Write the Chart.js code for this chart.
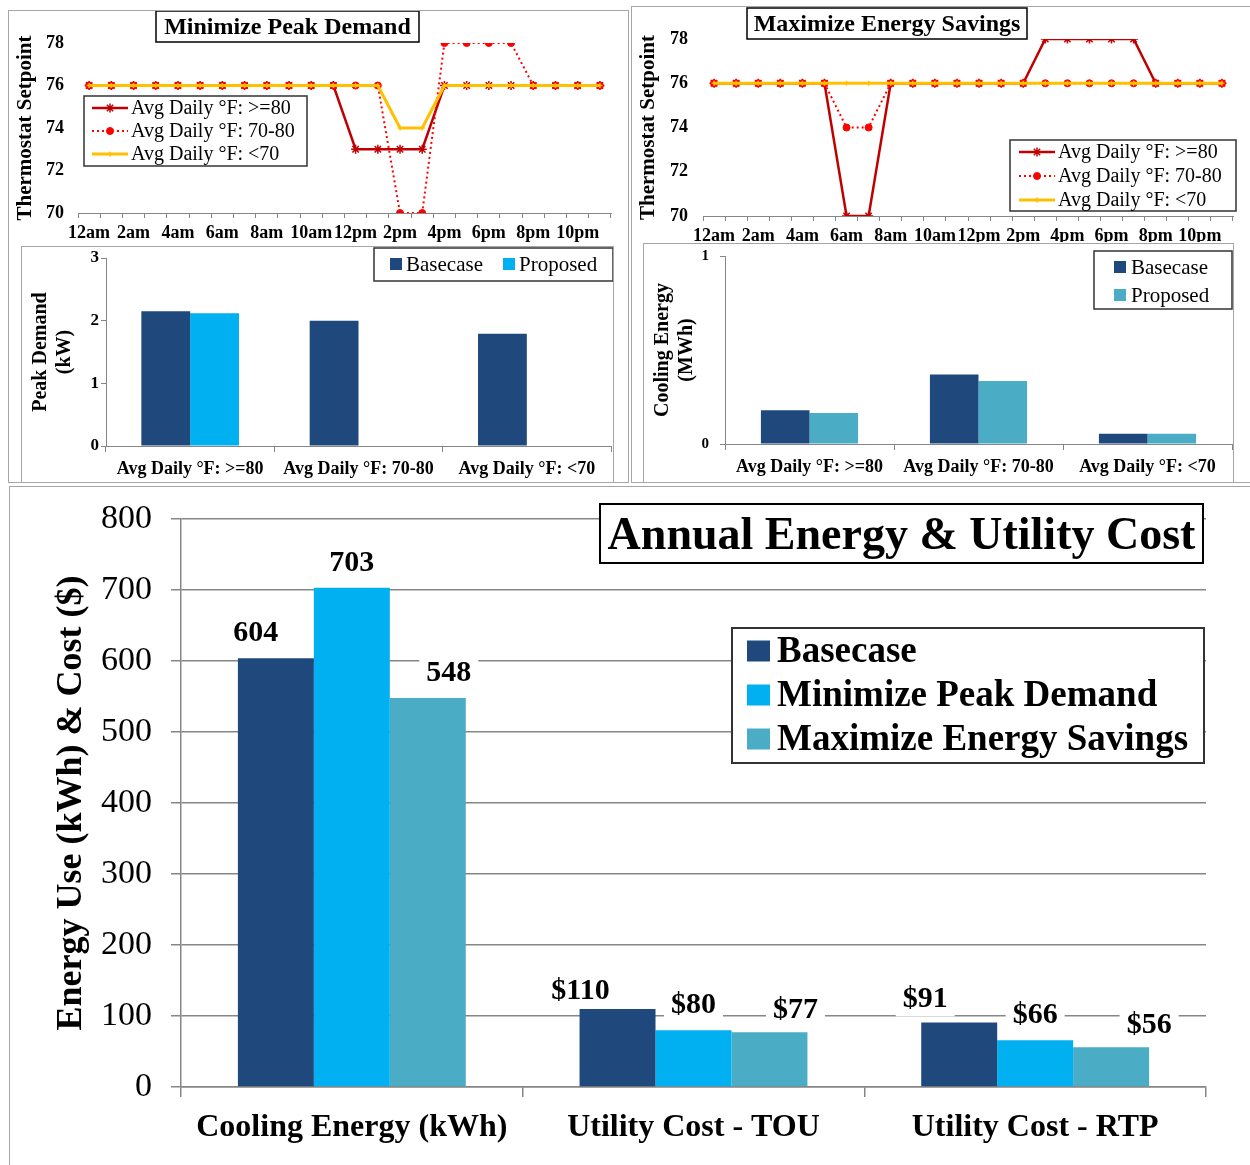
<!DOCTYPE html>
<html>
<head>
<meta charset="utf-8">
<script src="https://cdn.jsdelivr.net/npm/chart.js@4.4.1/dist/chart.umd.min.js"></script>
<style>
  html, body { margin: 0; padding: 0; background: #fff; }
  #page { position: relative; width: 1250px; height: 1165px; overflow: hidden; background: #fff; }
  .frame { position: absolute; border: 1px solid #a6a6a6; box-sizing: border-box; }
  canvas { position: absolute; }
</style>
</head>
<body>
<div id="page">
  <div class="frame" style="left:8px;top:10px;width:621px;height:473px"></div>
  <div class="frame" style="left:21px;top:246px;width:593px;height:237px"></div>
  <div class="frame" style="left:631px;top:6px;width:640px;height:477px"></div>
  <div class="frame" style="left:643px;top:243px;width:591px;height:240px"></div>
  <div class="frame" style="left:9px;top:486px;width:1260px;height:700px"></div>
  <canvas id="peakSetpoints"></canvas>
  <canvas id="peakDemand"></canvas>
  <canvas id="savingsSetpoints"></canvas>
  <canvas id="coolingEnergy"></canvas>
  <canvas id="annual"></canvas>
</div>
<script>
// ---------- data ----------
const hourLabels = ['12am','1am','2am','3am','4am','5am','6am','7am','8am','9am','10am','11am',
                    '12pm','1pm','2pm','3pm','4pm','5pm','6pm','7pm','8pm','9pm','10pm','11pm'];
const binLabels = ['Avg Daily °F: >=80', 'Avg Daily °F: 70-80', 'Avg Daily °F: <70'];

// Minimize Peak Demand: hourly thermostat setpoints (°F)
const peakHot  = [76,76,76,76,76,76,76,76,76,76,76,76,73,73,73,73,76,76,76,76,76,76,76,76];
const peakMild = [76,76,76,76,76,76,76,76,76,76,76,76,76,76,70,70,78,78,78,78,76,76,76,76];
const peakCool = [76,76,76,76,76,76,76,76,76,76,76,76,76,76,74,74,76,76,76,76,76,76,76,76];

// Maximize Energy Savings: hourly thermostat setpoints (°F)
const savingsHot  = [76,76,76,76,76,76,70,70,76,76,76,76,76,76,76,78,78,78,78,78,76,76,76,76];
const savingsMild = [76,76,76,76,76,76,74,74,76,76,76,76,76,76,76,76,76,76,76,76,76,76,76,76];
const savingsCool = [76,76,76,76,76,76,76,76,76,76,76,76,76,76,76,76,76,76,76,76,76,76,76,76];

// Peak demand (kW) by temperature bin
const peakBase     = [2.15, 2.0, 1.79];
const peakProposed = [2.12, null, null];

// Cooling energy (MWh) by temperature bin
const coolingBase     = [0.18, 0.37, 0.055];
const coolingProposed = [0.165, 0.335, 0.055];

// Annual energy use and utility cost
const annualCategories = ['Cooling Energy (kWh)', 'Utility Cost - TOU', 'Utility Cost - RTP'];
const annualBase    = [604, 110, 91];
const annualPeak    = [703, 80, 66];
const annualSavings = [548, 77, 56];

// ---------- styling ----------
const SERIF = '"Liberation Serif", "Times New Roman", serif';
Chart.defaults.font.family = SERIF;
Chart.defaults.color = '#000';
const NAVY = '#1F497D', CYAN = '#00B0F0', TEAL = '#4BACC6';
const AXIS = '#868686';
const HOT = '#C00000', MILD = '#FF0000', COOL = '#FFC000';

// Page-space placement of each canvas plus its boxed titles, keys and value tags
const origins = {};
const decor = {
  peakSetpoints: {
    title: { text: 'Minimize Peak Demand', font: 'bold 24px ' + SERIF, x: 156, y: 11, w: 263, h: 31 },
    key: { kind: 'line', font: '20px ' + SERIF, box: { x: 84, y: 96, w: 223, h: 70 },
           slots: [[92, 108], [92, 131], [92, 154]], sampleW: 36, textX: 131 }
  },
  savingsSetpoints: {
    title: { text: 'Maximize Energy Savings', font: 'bold 24px ' + SERIF, x: 747, y: 8, w: 280, h: 31 },
    key: { kind: 'line', font: '20px ' + SERIF, box: { x: 1010, y: 140, w: 226, h: 71 },
           slots: [[1019, 152], [1019, 176], [1019, 200]], sampleW: 36, textX: 1058 }
  },
  peakDemand: {
    key: { kind: 'swatch', font: '21px ' + SERIF, box: { x: 374, y: 248, w: 239, h: 33 },
           slots: [[390, 264], [503, 264]], swatch: [12, 12], textGap: 4 }
  },
  coolingEnergy: {
    key: { kind: 'swatch', font: '21px ' + SERIF, box: { x: 1094, y: 251, w: 138, h: 58 },
           slots: [[1114, 267], [1114, 295]], swatch: [12, 12], textGap: 5 }
  },
  annual: {
    title: { text: 'Annual Energy & Utility Cost', font: 'bold 46px ' + SERIF, x: 600, y: 504, w: 603, h: 59,
             lineWidth: 2, dy: 4 },
    key: { kind: 'swatch', font: 'bold 37px ' + SERIF, box: { x: 732, y: 628, w: 472, h: 135, lineWidth: 2 },
           slots: [[747, 651], [747, 695], [747, 739]], swatch: [23, 21], textGap: 7 },
    tags: { font: 'bold 30px ' + SERIF,
            dx: [[-20, -37, -34], [0, 0, 0], [21, 26, 38]],
            dy: [[25, 18, 23], [25, 25, 25], [25, 22, 22]] }
  }
};

function tagText(value, index) {
  return index === 0 ? String(value) : '$' + value;
}

function boxOutline(ctx, b, color) {
  ctx.fillStyle = '#fff';
  ctx.fillRect(b.x, b.y, b.w, b.h);
  ctx.strokeStyle = color;
  ctx.lineWidth = b.lineWidth || 1.5;
  ctx.strokeRect(b.x, b.y, b.w, b.h);
}

const decorPlugin = {
  id: 'decorPlugin',
  afterDatasetsDraw(chart) {
    const d = decor[chart.canvas.id];
    if (!d || !d.tags) return;
    const org = origins[chart.canvas.id];
    const ctx = chart.ctx;
    ctx.save();
    ctx.translate(-org.x, -org.y);
    ctx.font = d.tags.font;
    ctx.textAlign = 'center';
    ctx.textBaseline = 'middle';
    chart.data.datasets.forEach((ds, di) => {
      chart.getDatasetMeta(di).data.forEach((bar, i) => {
        const v = ds.data[i];
        if (v == null) return;
        const txt = tagText(v, i);
        const x = bar.x + org.x + d.tags.dx[di][i];
        const y = bar.y + org.y - d.tags.dy[di][i];
        const w = ctx.measureText(txt).width;
        ctx.fillStyle = '#fff';
        ctx.fillRect(x - w / 2 - 7, y - 17, w + 14, 34);
        ctx.fillStyle = '#000';
        ctx.fillText(txt, x, y);
      });
    });
    ctx.restore();
  },
  afterDraw(chart) {
    const d = decor[chart.canvas.id];
    if (!d) return;
    const org = origins[chart.canvas.id];
    const ctx = chart.ctx;
    ctx.save();
    ctx.translate(-org.x, -org.y);
    if (d.title) {
      const t = d.title;
      boxOutline(ctx, t, '#000');
      ctx.font = t.font;
      ctx.fillStyle = '#000';
      ctx.textAlign = 'center';
      ctx.textBaseline = 'middle';
      ctx.fillText(t.text, t.x + t.w / 2, t.y + t.h / 2 + (t.dy || 1));
    }
    if (d.key) {
      const k = d.key;
      boxOutline(ctx, k.box, '#333');
      ctx.font = k.font;
      ctx.textAlign = 'left';
      ctx.textBaseline = 'middle';
      chart.data.datasets.forEach((ds, i) => {
        const [sx, sy] = k.slots[i];
        let tx;
        if (k.kind === 'line') {
          ctx.save();
          ctx.strokeStyle = ds.borderColor;
          ctx.lineWidth = ds.borderWidth;
          ctx.setLineDash(ds.borderDash || []);
          ctx.beginPath();
          ctx.moveTo(sx, sy);
          ctx.lineTo(sx + k.sampleW, sy);
          ctx.stroke();
          ctx.restore();
          ctx.save();
          ctx.strokeStyle = ds.pointBorderColor;
          ctx.fillStyle = ds.pointBackgroundColor;
          ctx.lineWidth = ds.pointBorderWidth;
          Chart.helpers.drawPoint(ctx, {
            pointStyle: ds.pointStyle, radius: ds.pointRadius,
            borderWidth: ds.pointBorderWidth, rotation: 0
          }, sx + k.sampleW / 2, sy);
          ctx.restore();
          tx = k.textX;
        } else {
          ctx.fillStyle = ds.backgroundColor;
          ctx.fillRect(sx, sy - k.swatch[1] / 2, k.swatch[0], k.swatch[1]);
          tx = sx + k.swatch[0] + k.textGap;
        }
        ctx.fillStyle = '#000';
        ctx.fillText(ds.label, tx, sy + 1);
      });
    }
    ctx.restore();
  }
};
Chart.register(decorPlugin);

// Builds a chart whose plot area sits at an exact page rectangle
function build(id, frame, plot, config) {
  const cv = document.getElementById(id);
  cv.width = frame.w; cv.height = frame.h;
  cv.style.left = frame.x + 'px'; cv.style.top = frame.y + 'px';
  cv.style.width = frame.w + 'px'; cv.style.height = frame.h + 'px';
  origins[id] = frame;
  const o = config.options;
  o.responsive = false;
  o.animation = false;
  o.devicePixelRatio = 1;
  o.layout = { padding: { left: 0, top: plot.y0 - frame.y, right: frame.x + frame.w - plot.x1, bottom: 0 } };
  const xH = frame.y + frame.h - plot.y1;
  const yW = plot.x0 - frame.x;
  // fixed axis sizes; tick-label overhang is already covered by the padding above
  o.scales.x.afterFit = s => { s.height = xH; s.paddingLeft = 0; s.paddingRight = 0; };
  o.scales.y.afterFit = s => { s.width = yW; s.paddingTop = 0; s.paddingBottom = 0; };
  o.plugins = Object.assign({ legend: { display: false }, tooltip: { enabled: false } }, o.plugins || {});
  return new Chart(cv, config);
}

function setpointDatasets(hot, mild, cool) {
  return [
    { label: 'Avg Daily °F: >=80', data: hot, borderColor: HOT, borderWidth: 2.5,
      pointStyle: 'star', pointRadius: 4.5, pointBorderColor: HOT, pointBackgroundColor: HOT,
      pointBorderWidth: 1.5, tension: 0, order: 2 },
    { label: 'Avg Daily °F: 70-80', data: mild, borderColor: MILD, borderWidth: 2, borderDash: [2, 3],
      pointStyle: 'circle', pointRadius: 3.5, pointBorderColor: MILD, pointBackgroundColor: MILD,
      pointBorderWidth: 1, tension: 0, order: 1 },
    { label: 'Avg Daily °F: <70', data: cool, borderColor: COOL, borderWidth: 3,
      pointStyle: 'cross', pointRadius: 2.5, pointBorderColor: COOL, pointBackgroundColor: COOL,
      pointBorderWidth: 1.5, tension: 0, order: 0 }
  ];
}

function setpointScales(tickPad, titlePad) {
  return {
    x: {
      type: 'category', offset: true,
      grid: { offset: true, drawOnChartArea: false, drawTicks: true, tickLength: 5, color: AXIS },
      border: { display: true, color: AXIS, width: 1 },
      ticks: { autoSkip: false, maxRotation: 0, minRotation: 0, padding: 5,
               font: { size: 18, weight: 'bold' }, color: '#000',
               callback: (v, i) => (i % 2 === 0 ? hourLabels[i] : '') }
    },
    y: {
      min: 70, max: 78,
      grid: { display: false, drawTicks: false },
      border: { display: false },
      ticks: { stepSize: 2, padding: tickPad, font: { size: 18, weight: 'bold' }, color: '#000' },
      title: { display: true, text: 'Thermostat Setpoint', font: { size: 21, weight: 'bold', lineHeight: 1.2 },
               padding: { top: titlePad, bottom: 0 }, color: '#000' }
    }
  };
}

function binScales(max, tickSize, tickPad, title, titlePad) {
  return {
    x: {
      grid: { offset: true, drawOnChartArea: false, drawTicks: true, tickLength: 6, color: AXIS },
      border: { display: true, color: AXIS, width: 1 },
      ticks: { maxRotation: 0, padding: 7, font: { size: 18, weight: 'bold' }, color: '#000' }
    },
    y: {
      min: 0, max: max,
      grid: { drawOnChartArea: false, drawTicks: true, tickLength: 5, color: AXIS },
      border: { display: true, color: AXIS, width: 1 },
      ticks: { stepSize: 1, padding: tickPad, font: { size: tickSize, weight: 'bold' }, color: '#000' },
      title: { display: true, text: title, font: { size: 20, weight: 'bold', lineHeight: 1.18 },
               padding: { top: titlePad, bottom: 0 }, color: '#000' }
    }
  };
}

// Minimize Peak Demand setpoints
build('peakSetpoints', { x: 9, y: 11, w: 619, h: 234 }, { x0: 78, x1: 611, y0: 43, y1: 213 }, {
  type: 'line',
  data: { labels: hourLabels, datasets: setpointDatasets(peakHot, peakMild, peakCool) },
  options: { scales: setpointScales(14, 4.4) }
});

// Maximize Energy Savings setpoints
build('savingsSetpoints', { x: 632, y: 7, w: 617, h: 235 }, { x0: 703, x1: 1233, y0: 39, y1: 216 }, {
  type: 'line',
  data: { labels: hourLabels, datasets: setpointDatasets(savingsHot, savingsMild, savingsCool) },
  options: { scales: setpointScales(15, 4.4) }
});

// Peak demand by temperature bin
build('peakDemand', { x: 22, y: 247, w: 591, h: 235 }, { x0: 106, x1: 611, y0: 258, y1: 446 }, {
  type: 'bar',
  data: {
    labels: binLabels,
    datasets: [
      { label: 'Basecase', data: peakBase, backgroundColor: NAVY, borderWidth: 0,
        categoryPercentage: 0.58, barPercentage: 1.0 },
      { label: 'Proposed', data: peakProposed, backgroundColor: CYAN, borderWidth: 0,
        categoryPercentage: 0.58, barPercentage: 1.0 }
    ]
  },
  options: { scales: binScales(3, 17, 2, ['Peak Demand', '(kW)'], 7) }
});

// Cooling energy by temperature bin
build('coolingEnergy', { x: 644, y: 244, w: 590, h: 238 }, { x0: 725, x1: 1232, y0: 256, y1: 444 }, {
  type: 'bar',
  data: {
    labels: binLabels,
    datasets: [
      { label: 'Basecase', data: coolingBase, backgroundColor: NAVY, borderWidth: 0,
        categoryPercentage: 0.575, barPercentage: 1.0 },
      { label: 'Proposed', data: coolingProposed, backgroundColor: TEAL, borderWidth: 0,
        categoryPercentage: 0.575, barPercentage: 1.0 }
    ]
  },
  options: { scales: binScales(1, 15, 11, ['Cooling Energy', '(MWh)'], 7) }
});

// Annual energy use and utility cost
build('annual', { x: 10, y: 487, w: 1240, h: 677 }, { x0: 181, x1: 1206, y0: 519, y1: 1087 }, {
  type: 'bar',
  data: {
    labels: annualCategories,
    datasets: [
      { label: 'Basecase', data: annualBase, backgroundColor: NAVY, borderWidth: 0,
        categoryPercentage: 0.667, barPercentage: 1.0 },
      { label: 'Minimize Peak Demand', data: annualPeak, backgroundColor: CYAN, borderWidth: 0,
        categoryPercentage: 0.667, barPercentage: 1.0 },
      { label: 'Maximize Energy Savings', data: annualSavings, backgroundColor: TEAL, borderWidth: 0,
        categoryPercentage: 0.667, barPercentage: 1.0 }
    ]
  },
  options: {
    scales: {
      x: {
        grid: { offset: true, drawOnChartArea: false, drawTicks: true, tickLength: 10, color: AXIS, lineWidth: 1.5 },
        border: { display: true, color: AXIS, width: 1.5 },
        ticks: { maxRotation: 0, padding: 12, font: { size: 32, weight: 'bold' }, color: '#000' }
      },
      y: {
        min: 0, max: 800,
        grid: { drawOnChartArea: true, drawTicks: true, tickLength: 10, color: AXIS, lineWidth: 1.5 },
        border: { display: true, color: AXIS, width: 1.5 },
        ticks: { stepSize: 100, padding: 19, font: { size: 34 }, color: '#000' },
        title: { display: true, text: 'Energy Use (kWh) & Cost ($)', font: { size: 36, weight: 'bold', lineHeight: 1.2 },
                 padding: { top: 40, bottom: 0 }, color: '#000' }
      }
    }
  }
});
</script>
</body>
</html>
